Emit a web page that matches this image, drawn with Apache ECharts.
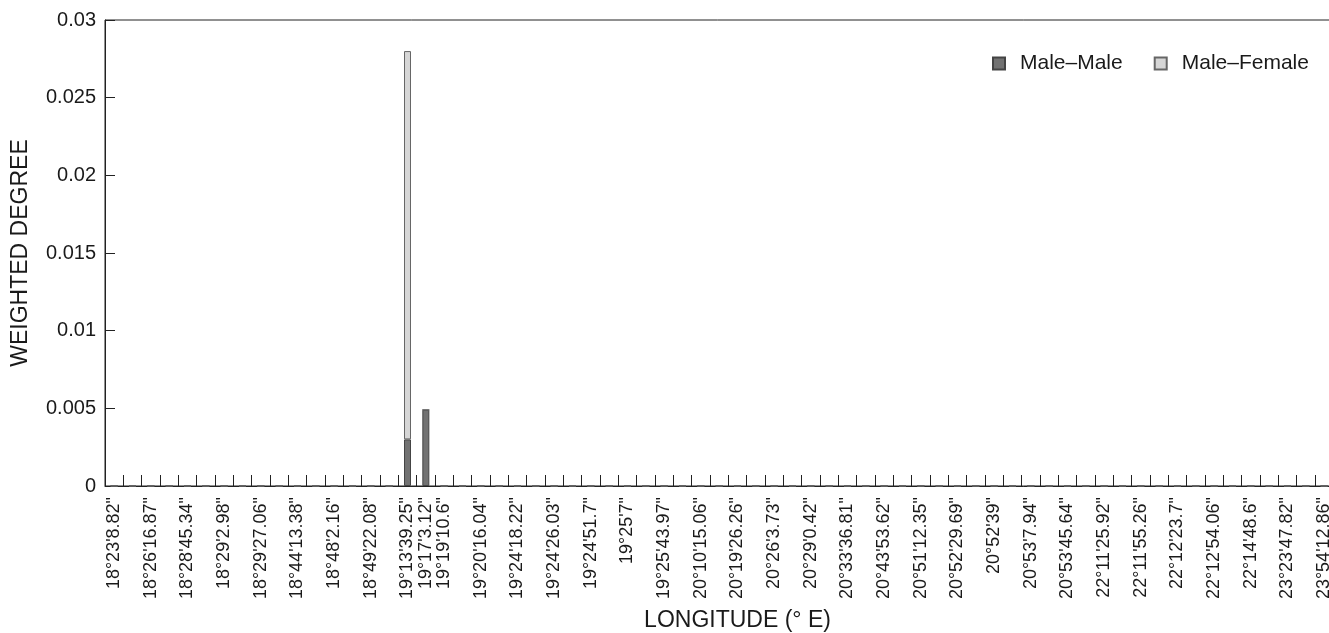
<!DOCTYPE html>
<html>
<head>
<meta charset="utf-8">
<script src="https://cdn.jsdelivr.net/npm/echarts@6/dist/echarts.min.js"></script>
<style>
html,body{margin:0;padding:0;background:#fff;overflow:hidden;}
#chart{width:1329px;height:633px;}
</style>
</head>
<body>
<div id="chart"></div>
<script>
// Category labels (unlabeled categories in the reference are left blank)
const categories = [
  "18°23'8.82\"", "", "18°26'16.87\"", "", "18°28'45.34\"", "", "18°29'2.98\"", "",
  "18°29'27.06\"", "", "18°44'13.38\"", "", "18°48'2.16\"", "", "18°49'22.08\"", "",
  "19°13'39.25\"", "19°17'3.12\"", "19°19'10.6\"", "", "19°20'16.04\"", "",
  "19°24'18.22\"", "", "19°24'26.03\"", "", "19°24'51.7\"", "", "19°25'7\"", "",
  "19°25'43.97\"", "", "20°10'15.06\"", "", "20°19'26.26\"", "", "20°26'3.73\"", "",
  "20°29'0.42\"", "", "20°33'36.81\"", "", "20°43'53.62\"", "", "20°51'12.35\"", "",
  "20°52'29.69\"", "", "20°52'39\"", "", "20°53'7.94\"", "", "20°53'45.64\"", "",
  "22°11'25.92\"", "", "22°11'55.26\"", "", "22°12'23.7\"", "", "22°12'54.06\"", "",
  "22°14'48.6\"", "", "23°23'47.82\"", "", "23°54'12.86\"", "", ""
];
const seriesNames = ["Male–Male", "Male–Female"];
// Non-zero values (index -> value), everything else 0
const maleMaleNonZero = { 16: 0.003, 17: 0.0049 };
const maleFemaleNonZero = { 16: 0.025 };
const yTicks = [0, 0.005, 0.01, 0.015, 0.02, 0.025, 0.03];

const maleMale = categories.map((c, i) => maleMaleNonZero[i] || 0);
const maleFemale = categories.map((c, i) => maleFemaleNonZero[i] || 0);

const FONT = 'Liberation Sans, Arial, Helvetica, sans-serif';
const chart = echarts.init(document.getElementById('chart'), null, {renderer: 'canvas'});
chart.setOption({
  animation: false,
  backgroundColor: '#ffffff',
  textStyle: {fontFamily: FONT, color: '#1a1a1a'},
  grid: {left: 105, top: 20, bottom: 147, width: 1265, show: true, borderColor: '#222', borderWidth: 1,
         containLabel: false, outerBoundsMode: 'none'},
  legend: {
    left: 987, top: 48, itemWidth: 12, itemHeight: 12, itemGap: 31,
    icon: 'rect',
    textStyle: {fontFamily: FONT, fontSize: 21, color: '#1a1a1a', padding: [0, 0, 0, 10]},
    data: seriesNames
  },
  xAxis: {
    type: 'category',
    data: categories,
    boundaryGap: true,
    name: 'LONGITUDE (° E)',
    nameLocation: 'middle',
    nameGap: 123,
    nameTextStyle: {fontFamily: FONT, fontSize: 23, color: '#1a1a1a'},
    axisLine: {show: true, lineStyle: {color: '#222', width: 1}},
    axisTick: {show: true, inside: true, length: 11, interval: 0, alignWithLabel: false, lineStyle: {color: '#222'}},
    axisLabel: {interval: 0, rotate: 90, margin: 11, fontSize: 18, color: '#1a1a1a', fontFamily: FONT},
    splitLine: {show: false}
  },
  yAxis: {
    type: 'value',
    min: yTicks[0], max: yTicks[yTicks.length - 1], interval: 0.005,
    name: 'WEIGHTED DEGREE',
    nameLocation: 'middle',
    nameGap: 73,
    nameRotate: 90,
    nameTextStyle: {fontFamily: FONT, fontSize: 23, color: '#1a1a1a'},
    axisLine: {show: true, lineStyle: {color: '#222', width: 1}},
    axisTick: {show: true, inside: true, length: 10, lineStyle: {color: '#222'}},
    axisLabel: {margin: 9, fontSize: 20, color: '#1a1a1a', fontFamily: FONT,
      formatter: v => String(parseFloat(v.toFixed(4)))},
    splitLine: {show: false}
  },
  series: [
    {
      name: seriesNames[0], type: 'bar', stack: 'total', data: maleMale, barWidth: 7,
      itemStyle: {color: '#727272', borderColor: '#444444', borderWidth: 1}
    },
    {
      name: seriesNames[1], type: 'bar', stack: 'total', data: maleFemale, barWidth: 7,
      itemStyle: {color: '#d6d6d6', borderColor: '#666666', borderWidth: 1}
    }
  ]
});
</script>
</body>
</html>
